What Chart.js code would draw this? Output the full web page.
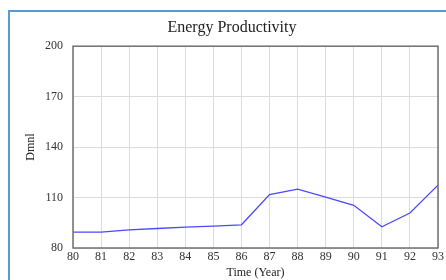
<!DOCTYPE html>
<html>
<head>
<meta charset="utf-8">
<script src="https://cdn.jsdelivr.net/npm/chart.js@4/dist/chart.umd.min.js"></script>
<style>
  html, body { margin: 0; padding: 0; background: #fff; }
  #wrap { position: relative; width: 446px; height: 280px; }
  #frame { position: absolute; left: 8px; top: 10px; right: -4px; bottom: -4px;
           border-top: 2px solid #5b9bd5; border-left: 2px solid #5b9bd5; }
  canvas { position: absolute; left: 0; top: 0; }
</style>
</head>
<body>
<div id="wrap">
  <div id="frame"></div>
  <canvas id="myCanvas" width="446" height="280"></canvas>
</div>
<script>
// years on the time axis
const years = [80, 81, 82, 83, 84, 85, 86, 87, 88, 89, 90, 91, 92, 93]
// energy productivity (Dmnl)
const productivity = [89.4, 89.4, 90.8, 91.6, 92.4, 93, 93.8, 111.8, 115, 110.2, 105.4, 92.6, 100.8, 117.4]
const yTicks = [80, 110, 140, 170, 200]

const serif = '"Liberation Serif", "Times New Roman", serif'

// dark frame around the plot area
const plotFrame = {
    id: 'plotFrame',
    afterDraw(chart) {
        const { ctx, chartArea } = chart
        ctx.save()
        ctx.strokeStyle = '#707070'
        ctx.lineWidth = 1.5
        ctx.strokeRect(chartArea.left, chartArea.top, chartArea.right - chartArea.left, chartArea.bottom - chartArea.top)
        ctx.restore()
    }
}

const myChart = document.getElementById('myCanvas').getContext('2d')

new Chart(myChart, {
    type: 'line',
    data: {
        datasets: [{
            label: 'Energy Productivity',
            data: years.map((yr, i) => ({ x: yr, y: productivity[i] })),
            borderColor: '#4a4aff',
            borderWidth: 1.3,
            pointRadius: 0,
            tension: 0
        }]
    },
    options: {
        responsive: false,
        animation: false,
        layout: { padding: { left: 24, right: 6, top: 18, bottom: 0 } },
        plugins: {
            legend: { display: false },
            tooltip: { enabled: false },
            title: {
                display: true,
                text: 'Energy Productivity',
                color: '#222',
                font: { family: serif, size: 16, weight: 'normal' },
                padding: { top: 0, bottom: 9 }
            }
        },
        scales: {
            x: {
                type: 'linear',
                min: 80,
                max: 93,
                afterBuildTicks: (scale) => { scale.ticks = years.map(v => ({ value: v })) },
                afterFit: (scale) => { scale.height = 32 },
                ticks: { color: '#333', font: { family: serif, size: 12 }, padding: 2, maxRotation: 0 },
                grid: { color: '#dcdcdc', drawTicks: false },
                border: { display: false },
                title: { display: true, text: 'Time (Year)', color: '#222', font: { family: serif, size: 12 }, padding: 0 }
            },
            y: {
                min: 80,
                max: 200,
                afterBuildTicks: (scale) => { scale.ticks = yTicks.map(v => ({ value: v })) },
                afterFit: (scale) => { scale.width = 49 },
                ticks: { color: '#333', font: { family: serif, size: 12 }, padding: 10 },
                grid: { color: '#dcdcdc', drawTicks: false },
                border: { display: false },
                title: { display: true, text: 'Dmnl', color: '#222', font: { family: serif, size: 12 }, padding: 0 }
            }
        }
    },
    plugins: [plotFrame]
})
</script>
</body>
</html>
